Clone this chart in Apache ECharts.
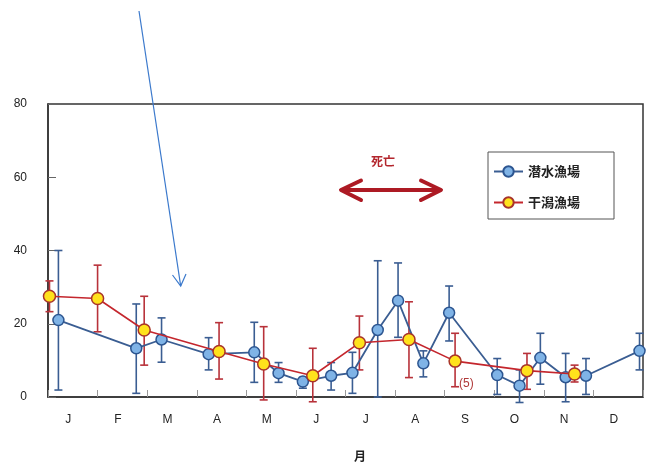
<!DOCTYPE html>
<html><head><meta charset="utf-8">
<script src="https://cdn.jsdelivr.net/npm/echarts@6/dist/echarts.min.js"></script>
<style>html,body{margin:0;padding:0;background:#fff}#c{width:646px;height:464px}</style>
</head><body><div id="c"></div>
<script>
const months = ['J','F','M','A','M','J','J','A','S','O','N','D'];
const yTicks = [0,20,40,60,80];
// 潜水漁場 (x in months from Jan 1)
const blueX    = [0.21,1.78,2.29,3.24,4.16,4.65,5.14,5.71,6.14,6.65,7.06,7.57,8.09,9.06,9.51,9.93,10.44,10.85,11.93];
const blueMean = [21.0,13.3,15.7,11.7,12.2,6.5,4.2,5.8,6.6,18.3,26.3,9.2,23.0,6.0,3.1,10.7,5.4,5.8,12.6];
const blueHigh = [40.0,25.4,21.6,16.2,20.4,9.4,5.4,9.4,12.2,37.2,36.6,12.6,30.3,10.5,7.4,17.4,11.9,10.5,17.4];
const blueLow  = [1.9,1.0,9.5,7.4,4.0,4.0,2.4,1.9,1.0,0.0,16.3,5.5,15.3,0.7,-1.5,3.5,-1.3,0.7,7.4];
// 干潟漁場
const redX    = [0.03,1.0,1.94,3.45,4.35,5.34,6.28,7.28,8.21,9.66,10.62];
const redMean = [27.5,26.9,18.3,12.4,9.0,5.8,14.8,15.7,9.8,7.2,6.3];
const redHigh = [31.7,36.0,27.5,20.3,19.2,13.3,22.1,26.0,17.4,11.9,8.7];
const redLow  = [23.3,17.8,8.7,4.9,-0.8,-1.3,7.4,5.3,2.8,2.1,4.1];

const BLUE_LINE='#3a5d92', BLUE_FILL='#7fb3e6', RED_LINE='#c4262d', RED_FILL='#ffe21c', RED_EDGE='#a8342a';

function errSeries(xs, lo, hi, color){
  return {
    type:'custom', z:1, clip:false, silent:true,
    data: xs.map((x,i)=>[x, lo[i], hi[i]]),
    renderItem(params, api){
      const a = api.coord([api.value(0), api.value(1)]);
      const b = api.coord([api.value(0), api.value(2)]);
      const w = 4;
      const st = {stroke:color, lineWidth:1.6};
      return {type:'group', children:[
        {type:'line', shape:{x1:a[0],y1:a[1],x2:b[0],y2:b[1]}, style:st},
        {type:'line', shape:{x1:a[0]-w,y1:a[1],x2:a[0]+w,y2:a[1]}, style:st},
        {type:'line', shape:{x1:b[0]-w,y1:b[1],x2:b[0]+w,y2:b[1]}, style:st}
      ]};
    }
  };
}

const chart = echarts.init(document.getElementById('c'), null, {renderer:'canvas'});
chart.setOption({
  animation:false,
  backgroundColor:'#fff',
  textStyle:{fontFamily:'Liberation Sans, Arial, sans-serif'},
  grid:{left:48, right:3, top:104, bottom:67, show:true, borderColor:'#333', borderWidth:1.5, backgroundColor:'transparent'},
  legend:{
    left:488, top:152, orient:'vertical',
    data:['潜水漁場','干潟漁場'],
    borderColor:'#555', borderWidth:1, backgroundColor:'#fff',
    padding:[13,34,10,5], itemGap:18, itemWidth:29, itemHeight:13,
    textStyle:{fontFamily:'Noto Sans CJK JP', fontSize:13, fontWeight:'bold', color:'#222'}
  },
  xAxis:[
    {type:'value', min:0, max:12, interval:1,
     axisLine:{show:true, lineStyle:{color:'#333', width:1.5}},
     axisTick:{show:true, inside:true, length:7, lineStyle:{color:'#999'}},
     axisLabel:{show:false}, splitLine:{show:false}},
    {type:'category', data:months, position:'bottom', boundaryGap:true,
     axisLine:{show:false}, axisTick:{show:false}, splitLine:{show:false},
     axisLabel:{margin:17, padding:[0,9,0,0], fontSize:12, color:'#222'}}
  ],
  yAxis:{type:'value', min:0, max:80, interval:20,
    axisLine:{show:true, lineStyle:{color:'#333', width:1.5}},
    axisTick:{show:true, inside:true, length:8, lineStyle:{color:'#666'}},
    axisLabel:{margin:21, fontSize:12, color:'#222', formatter:v=>yTicks.includes(v)?String(v):''},
    splitLine:{show:false}},
  graphic:[
    {type:'text', left:371, top:155, style:{text:'死亡', fill:'#b3262d', font:'bold 12px "Noto Sans CJK JP"'}},
    {type:'line', shape:{x1:343,y1:190,x2:439,y2:190}, style:{stroke:'#ad1a24', lineWidth:4}},
    {type:'polyline', shape:{points:[[361,180.5],[341,190],[361,200]]}, style:{stroke:'#ad1a24', lineWidth:4, fill:null, lineJoin:'round', lineCap:'round'}},
    {type:'polyline', shape:{points:[[421,180.5],[441,190],[421,200]]}, style:{stroke:'#ad1a24', lineWidth:4, fill:null, lineJoin:'round', lineCap:'round'}},
    {type:'line', shape:{x1:139,y1:11,x2:180.7,y2:286}, style:{stroke:'#3b79cc', lineWidth:1.2}},
    {type:'polyline', shape:{points:[[172.5,275],[180.7,286],[186,274]]}, style:{stroke:'#3b79cc', lineWidth:1.2, fill:null}},
    {type:'text', left:459, top:378, style:{text:'(5)', fill:'#b03a3a', font:'12px "Liberation Sans"'}},
    {type:'text', left:354, top:450, style:{text:'月', fill:'#222', font:'bold 12px "Noto Sans CJK JP"'}}
  ],
  series:[
    errSeries(blueX, blueLow, blueHigh, BLUE_LINE),
    errSeries(redX, redLow, redHigh, '#b8323a'),
    {name:'潜水漁場', type:'line', z:3, clip:false, xAxisIndex:0,
     data: blueX.map((x,i)=>[x, blueMean[i]]),
     symbol:'circle', symbolSize:11,
     lineStyle:{color:BLUE_LINE, width:1.8},
     itemStyle:{color:BLUE_FILL, borderColor:'#2c5590', borderWidth:1.5}},
    {name:'干潟漁場', type:'line', z:4, clip:false, xAxisIndex:0,
     data: redX.map((x,i)=>[x, redMean[i]]),
     symbol:'circle', symbolSize:12,
     lineStyle:{color:RED_LINE, width:1.6},
     itemStyle:{color:RED_FILL, borderColor:RED_EDGE, borderWidth:1.5}}
  ]
});
</script></body></html>
